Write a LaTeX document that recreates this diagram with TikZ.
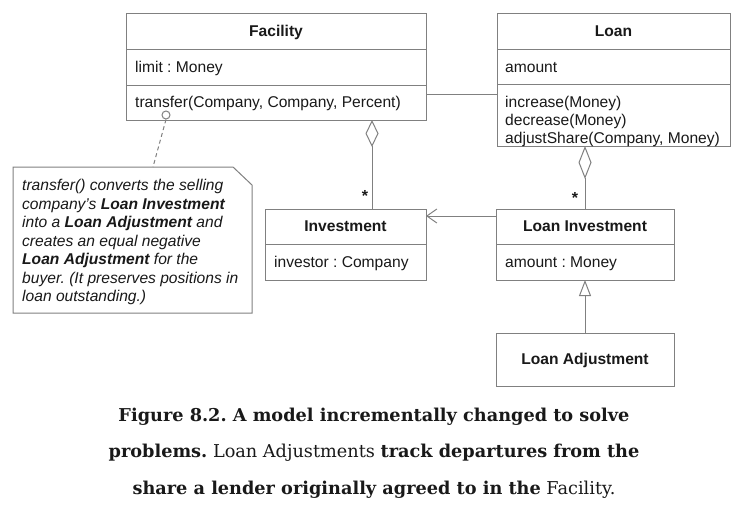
\documentclass[tikz,border=0pt]{standalone}
\usepackage{fontspec}
\setmainfont{Liberation Sans}
\newfontfamily\capfont{DejaVu Serif}
\usetikzlibrary{arrows.meta,calc}
\definecolor{ln}{RGB}{128,128,128}
\definecolor{tx}{RGB}{25,25,25}
\frenchspacing
\begin{document}
\begin{tikzpicture}[x=1pt,y=-1pt,
  cls/.style={draw=ln, line width=1pt, rectangle, inner sep=0pt, outer sep=0pt, fill=white},
  ln/.style={draw=ln, line width=1pt},
  hd/.style={font=\fontsize{15.6}{18}\selectfont\bfseries, text=tx, anchor=base, inner sep=0pt},
  it/.style={font=\fontsize{15.6}{18}\selectfont, text=tx, anchor=base west, inner sep=0pt},
  nt/.style={font=\fontsize{15.6}{18}\selectfont\itshape, text=tx, anchor=base west, inner sep=0pt},
  captext/.style={font=\capfont\fontsize{17.7}{20}\selectfont, text=tx, anchor=base, inner sep=0pt},
  mult/.style={font=\fontsize{16}{18}\selectfont\bfseries, text=tx, inner sep=0pt}]
\useasboundingbox (0,0) rectangle (748,514);
% classes
\node[cls, minimum width=300pt, minimum height=107pt] (fac) at (276,66.5) {};
\node[cls, minimum width=233pt, minimum height=133pt] (loan) at (613.5,79.5) {};
\node[cls, minimum width=161pt, minimum height=71pt] (inv) at (345.5,244.5) {};
\node[cls, minimum width=178pt, minimum height=71pt] (linv) at (585,244.5) {};
\node[cls, minimum width=178pt, minimum height=53pt] (ladj) at (585,359.5) {};
% dividers
\draw[ln] ($(fac.north west)+(0,36)$) -- ($(fac.north east)+(0,36)$);
\draw[ln] ($(fac.north west)+(0,72)$) -- ($(fac.north east)+(0,72)$);
\draw[ln] ($(loan.north west)+(0,36)$) -- ($(loan.north east)+(0,36)$);
\draw[ln] ($(loan.north west)+(0,71)$) -- ($(loan.north east)+(0,71)$);
\draw[ln] ($(inv.north west)+(0,35)$) -- ($(inv.north east)+(0,35)$);
\draw[ln] ($(linv.north west)+(0,35)$) -- ($(linv.north east)+(0,35)$);
% texts
\node[hd] (facT) at (276,36.5) {Facility};
\node[it] (facA) at (135,72.5) {limit : Money};
\node[it] (facM) at (135,107.5) {transfer(Company, Company, Percent)};
\node[hd] (loanT) at (613.5,36.5) {Loan};
\node[it] (loanA) at (505,72.5) {amount};
\node[it] (loanM1) at (505,107.5) {increase(Money)};
\node[it] (loanM2) at (505,125.5) {decrease(Money)};
\node[it] (loanM3) at (505,143.5) {adjustShare(Company, Money)};
\node[hd] (invT) at (345.5,231.5) {Investment};
\node[it] (invA) at (274,267.5) {investor : Company};
\node[hd] (linvT) at (585,231.5) {Loan Investment};
\node[it] (linvA) at (505,267.5) {amount : Money};
\node[hd] (ladjT) at (585,364.5) {Loan Adjustment};
% connectors
\draw[ln] ($(fac.north east)+(0,81)$) -- ($(loan.north west)+(0,81)$);
\draw[ln, {Diamond[open,fill=white,length=27pt,width=13pt]}-] ($(fac.south west)+(246,0)$) -- ($(inv.north west)+(107,0)$);
\draw[ln, {Diamond[open,fill=white,length=33pt,width=13pt]}-] ($(loan.south west)+(88,0)$) -- ($(linv.north west)+(89,0)$);
\draw[ln, -{Straight Barb[length=10pt,width=14pt]}] ($(linv.north west)+(0,7)$) -- ($(inv.north east)+(0,7)$);
\draw[ln, -{Triangle[open,fill=white,length=16pt,width=12pt]}] (ladj.north) -- (linv.south);
\node[mult] (m1) at (365,196) {*};
\node[mult] (m2) at (575,198) {*};
% note
\path[draw=ln, line width=1pt, fill=white] (13,167) -- (233,167) -- (252,185) -- (252,313) -- (13,313) -- cycle;
\coordinate (noteTop) at (153,167);
\node[draw=ln, line width=1pt, circle, minimum size=8pt, inner sep=0pt, fill=white] (anc) at (166,115) {};
\draw[ln, dashed, dash pattern=on 4pt off 3pt] (anc.south) -- (noteTop);
\node[nt] (n1) at (22,190.5) {transfer() converts the selling};
\node[nt] (n2) at (22,209) {company’s \textbf{Loan Investment}};
\node[nt] (n3) at (22,227.5) {into a \textbf{Loan Adjustment} and};
\node[nt] (n4) at (22,246) {creates an equal negative};
\node[nt] (n5) at (22,264.5) {\textbf{Loan Adjustment} for the};
\node[nt] (n6) at (22,283) {buyer. (It preserves positions in};
\node[nt] (n7) at (22,301.5) {loan outstanding.)};
% caption
\node[captext] (c1) at (374,421) {\bfseries Figure 8.2. A model incrementally changed to solve};
\node[captext] (c2) at (374,457.5) {\textbf{problems.} Loan Adjustments \textbf{track departures from the}};
\node[captext] (c3) at (374,494) {\textbf{share a lender originally agreed to in the} Facility.};
\end{tikzpicture}
\end{document}
